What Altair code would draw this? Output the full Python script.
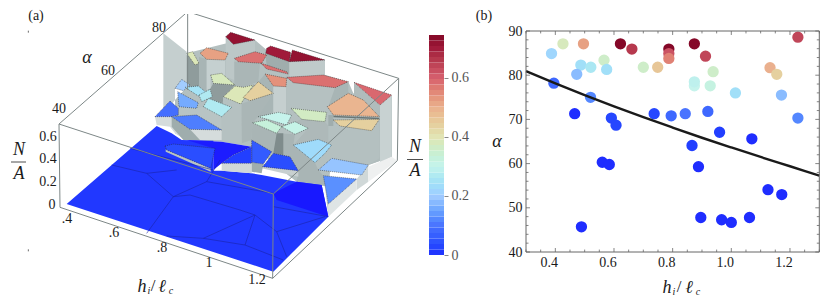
import altair as alt
import numpy as np

# ---------- panel (b) data ----------
h_vals = [.387,.426,.496,.622,.661,.787,.787,.787,.874,.912,1.227,.487,.473,.521,.566,.575,.70,.749,.938,.874,.874,.928,1.014,1.132,1.155,1.171,1.227,.395,.520,.466,.591,.607,.737,.795,.843,.92,.96,1.07,.866,.888,.56,.584,1.125,1.172,.896,.967,1.0,1.062,.489]
alpha_vals = [84.9,87.1,87.1,87.1,85.9,85.9,84.9,83.8,87.1,84.3,88.6,82.3,80.2,81.8,83.4,81.3,81.8,81.8,80.8,77.6,78.5,77.6,76.0,81.7,80.2,75.5,70.3,78.2,75.0,71.3,70.3,68.7,71.3,70.8,71.3,71.8,67.1,65.6,64.1,59.3,60.3,59.8,54.1,53.0,47.8,47.3,46.7,47.8,45.7]
n_vals = [.22,.38,.52,.74,.66,.74,.62,.56,.74,.64,.64,.24,.18,.26,.36,.24,.36,.46,.36,.30,.29,.32,.24,.50,.44,.18,.12,.08,.12,0,.03,.03,.03,.08,.1,.08,.02,0,.02,0,0,0,0,0,0,0,0,0,0]
curve_h = [.3,.4,.5,.6,.7,.8,.9,1.0,1.1,1.2,1.3]
curve_alpha = [80.9,78.15,75.5,72.95,70.5,68.15,65.85,63.65,61.5,59.4,57.3]

# ---------- colour map ----------
cmap_n = [0,.1,.2,.3,.4,.5,.6,.7,.745]
cmap_c = ["#1f2dff","#4a74ff","#a2ccff","#c6f3ec","#e2e4b4","#eab08e","#d65f6e","#a01a3a","#820626"]
COLOR = alt.Scale(domain=cmap_n, range=cmap_c, clamp=True)

# ---------- panel (a): projected faces (x3 zoom units) ----------
WALLS = [
 ("#c5cfcf",[(490,100),(560,155),(560,260),(525,265),(525,300),(490,345)]),
 ("#b4c0c0",[(560,160),(680,130),(765,120),(800,150),(975,180),(975,225),(1045,245),(1060,280),(1140,320),(1175,285),(1175,470),(1105,495),(1105,500),(995,475),(985,560),(890,545),(755,440),(665,425),(560,420),(525,400),(525,300),(560,262)]),
 ("#8f9c9c",[(560,165),(597,190),(597,285),(560,262)]),
 ("#a8b5b5",[(597,170),(620,178),(620,270),(597,285)]),
 ("#c5d0d0",[(620,178),(675,180),(675,230),(632,225),(632,265),(620,270)]),
 ("#bcc7c7",[(677,110),(700,133),(765,120),(765,160),(703,178),(703,240),(677,230)]),
 ("#aab6b6",[(703,185),(780,190),(775,245),(730,262),(703,255)]),
 ("#a0adad",[(797,160),(868,185),(868,220),(800,207)]),
 ("#bfcaca",[(868,185),(975,180),(975,225),(868,232)]),
 ("#a8b5b5",[(795,222),(820,258),(820,350),(775,350),(775,245)]),
 ("#c5cfcf",[(820,258),(858,260),(858,340),(820,345)]),
 ("#b5c1c1",[(860,235),(1005,263),(1000,350),(982,320),(980,337),(873,325),(860,340)]),
 ("#a8b5b5",[(1005,263),(1045,245),(1045,285),(985,320)]),
 ("#b0bcbc",[(1062,247),(1062,290),(1090,300),(1138,350),(1138,470),(1105,495),(1175,470),(1175,285),(1140,315)]),
 ("#c8d2d2",[(1140,315),(1175,285),(1175,470),(1140,490)]),
 ("#b4c0c0",[(1000,378),(1020,378),(1115,392),(1138,358),(1138,475),(1105,495),(995,475),(985,435),(985,378)]),
 ("#6a7676",[(1000,347),(1138,353),(1138,358),(1000,352)]),
 ("#aeb9b9",[(905,358),(975,365),(985,378),(985,440),(955,418),(880,435),(925,385),(885,365)]),
 ("#a0adad",[(985,345),(1000,345),(1000,378),(985,378)]),
 ("#a9b5b5",[(757,368),(830,400),(885,403),(880,435),(945,488),(955,510),(970,527),(975,555),(890,545),(895,512),(870,470),(820,460),(815,455),(755,420)]),
 ("#7f8c8c",[(830,400),(850,400),(850,465),(820,460)]),
 ("#8f9c9c",[(640,250),(705,255),(670,290),(665,350),(695,322),(625,295),(637,290),(630,268)]),
 ("#aab6b6",[(722,312),(750,302),(820,280),(775,350),(757,368),(755,420),(725,430),(725,312)]),
 ("#b5c1c1",[(670,290),(722,312),(725,430),(665,420),(665,350)]),
 ("#b8c4c4",[(537,320),(590,325),(610,320),(665,350),(665,390),(590,345),(535,345)]),
 ("#d5dcdc",[(465,350),(515,350),(570,388),(665,390),(665,420),(560,420),(525,400),(510,380),(470,375)]),
 ("#9fadad",[(515,350),(570,388),(600,420),(550,420),(515,380)]),
 ("#d0d8d8",[(1070,537),(1105,495),(1105,545),(1070,570)]),
 ("#dfe5e5",[(985,612),(1070,537),(1070,570),(985,650)]),
 ("#c0caca",[(975,555),(985,612),(985,650)]),
 ("#eef0f0",[(1105,500),(1175,470),(1192,482),(1105,545)]),
]
FLOOR = [(.012,[(200,612),(470,378),(515,400),(545,420),(640,422),(640,512),(665,512),(755,520),(785,525),(890,545),(965,555),(985,650),(820,815)])]
FLOOR_DARK = [
 ("#1c1cff",[(560,420),(665,425),(755,440),(700,465),(665,490),(640,510),(640,445)]),
 ("#1818ff",[(820,580),(890,545),(965,555),(985,650),(830,600)]),
 ("#b8c4c4",[(497,448),(632,505),(632,515),(497,455)]),
 ("#d0d8d8",[(665,490),(755,490),(755,520),(665,512)]),
 ("#c8d0d0",[(790,492),(895,512),(895,530),(785,505)]),
 ("#9fadad",[(755,487),(790,492),(785,520),(755,515)]),
]
TOPS = [
 (.72,[(677,110),(692,97),(765,120),(700,133)]),
 (.70,[(800,145),(812,138),(872,157),(868,185),(797,160)]),
 (.72,[(877,150),(975,180),(868,185)]),
 (.52,[(600,160),(620,143),(685,160),(675,180),(620,178)]),
 (.39,[(560,160),(578,155),(597,190),(585,195)]),
 (.58,[(703,175),(765,155),(800,165),(785,190),(715,185)]),
 (.58,[(783,190),(800,195),(860,215),(865,222),(800,207)]),
 (.54,[(795,222),(860,235),(858,260),(820,258)]),
 (.58,[(860,232),(970,225),(1045,245),(1005,263),(880,248)]),
 (.59,[(1062,247),(1175,285),(1140,315)]),
 (.49,[(982,320),(1045,280),(1090,300),(1138,350),(1000,345)]),
 (.44,[(1000,360),(1138,358),(1115,392),(1020,378)]),
 (.37,[(873,325),(980,337),(975,365),(905,358)]),
 (.38,[(632,225),(665,220),(705,255),(640,250)]),
 (.39,[(670,290),(705,258),(730,262),(760,255),(722,312)]),
 (.44,[(730,292),(775,245),(820,280),(750,302)]),
 (.20,[(525,265),(545,238),(570,255),(550,272)]),
 (.25,[(555,262),(595,258),(622,280),(595,288)]),
 (.27,[(597,285),(630,268),(637,290),(605,305)]),
 (.27,[(610,320),(625,295),(695,322),(665,350)]),
 (.16,[(533,275),(595,308),(590,325),(537,320)]),
 (.09,[(465,350),(510,303),(535,325),(535,345),(515,350)]),
 (.11,[(515,350),(590,345),(665,390),(570,388)]),
 (.30,[(775,350),(835,337),(875,345),(860,375)]),
 (.33,[(757,368),(800,360),(845,380),(830,400)]),
 (.31,[(845,380),(885,365),(925,385),(885,403)]),
 (.23,[(880,435),(955,418),(995,435),(975,460),(945,488)]),
 (.06,[(755,420),(815,455),(790,492),(755,487)]),
 (.04,[(788,500),(820,460),(870,470),(895,512)]),
 (.19,[(955,510),(995,475),(1105,495),(1085,525)]),
 (.13,[(970,527),(1070,537),(985,612)]),
 (.04,[(495,438),(520,432),(645,445),(632,505),(500,450)]),
 (.02,[(665,490),(700,465),(755,440),(755,490),(720,490)]),
]
FLOOR_SEAMS = [
 [(335,495),(440,520),(520,590),(620,545),(660,480)],
 [(440,520),(530,510)],
 [(620,545),(820,580)],
 [(520,590),(570,585),(720,630),(765,645),(830,695),(975,650)],
 [(520,590),(440,700)],
 [(765,645),(610,715),(500,708)],
 [(765,645),(735,735),(610,715)],
 [(830,695),(860,770)],
 [(735,735),(850,780)],
 [(820,620),(985,650)],
 [(390,445),(640,510)],
]
BOX = [
 [(180,622),(818,835),(1192,482)],
 [(177,372),(180,622)],
 [(820,582),(818,835)],
 [(177,372),(563,35),(1196,235),(1192,482)],
 [(177,372),(820,582),(1196,235)],
 [(563,35),(563,270)],
]
SPECKS = [[(85,92),(85,98)],[(85,748),(85,754)]]

OX, OY = 8, 14   # page origin of the chart's plot frame (margin + top padding)

def poly(pts, **props):
    ring = [[x/3, y/3] for x, y in pts]
    ring.append(ring[0])
    return {"type":"Feature","properties":props,"geometry":{"type":"Polygon","coordinates":[ring]}}
def path(pts):
    return {"type":"Feature","properties":{},"geometry":{"type":"LineString","coordinates":[[x/3,y/3] for x,y in pts]}}

def geo(features):
    return alt.Chart(alt.Data(values=features))
PROJ = dict(type="identity", scale=1, translate=[-OX,-OY])

walls = [geo([poly(p)]).mark_geoshape(fill=c, strokeWidth=0).project(**PROJ) for c,p in WALLS]
floor = geo([poly(p, N=n) for n,p in FLOOR]).mark_geoshape(strokeWidth=0).encode(
    fill=alt.Fill("properties.N:Q", scale=COLOR, legend=None)).project(**PROJ)
floor2 = [geo([poly(p)]).mark_geoshape(fill=c, strokeWidth=0).project(**PROJ) for c,p in FLOOR_DARK]
tops = geo([poly(p, N=n) for n,p in TOPS]).mark_geoshape(stroke="#222222", strokeWidth=0.5, strokeDash=[1,1]).encode(
    fill=alt.Fill("properties.N:Q", scale=COLOR, legend=None)).project(**PROJ)
seams = geo([path(p) for p in FLOOR_SEAMS]).mark_geoshape(filled=False, stroke="#1a23a8", strokeWidth=0.6).project(**PROJ)
box = geo([path(p) for p in BOX]).mark_geoshape(filled=False, stroke="#7d8787", strokeWidth=1).project(**PROJ)
specks = geo([path(p) for p in SPECKS]).mark_geoshape(filled=False, stroke="#444444", strokeWidth=0.8).project(**PROJ)

# ---------- pixel-frame text ----------
PX = alt.Scale(domain=[0,830], range=[-OX,830-OX], zero=False)
PY = alt.Scale(domain=[0,307], range=[-OY,307-OY], zero=False)
SERIF = "Liberation Serif, Times New Roman, serif"
label_text = ["(a)","(b)","80","60","40","0.6","0.4","0.2","0",".4",".6",".8","1","1.2","/","/"]
label_x = [36,484,159,108,59,48,48,48,52,67,114,162,209,257,153,679]
label_y = [16,16,28,71,109,137,159,182,205,219,233,248,263,280,286,287]
label_s = [14,14,14,14,14,14,14,14,14,14,14,14,14,14,17,17]
math_text = ["h","i","ℓ","c","h","i","ℓ","c","α","α","N","A","N","A"]
math_x = [142,149,162,171,667,674,689,698,87,497,19,19,415,415]
math_y = [287,291,287,291,288,292,288,292,58,142,150,174,147,171]
math_s = [18,10,18,10,18,10,18,10,18,18,18,18,18,18]

def text_layers(t, x, y, s, **kw):
    out = []
    for sz in sorted(set(s)):
        rows = [dict(t=a,x=b,y=c) for a,b,c,d in zip(t,x,y,s) if d == sz]
        out.append(alt.Chart(alt.Data(values=rows)).mark_text(font=SERIF, color="#1a1a1a", baseline="middle", fontSize=sz, **kw).encode(
            x=alt.X("x:Q", scale=PX, axis=None), y=alt.Y("y:Q", scale=PY, axis=None), text="t:N"))
    return out
labels = text_layers(label_text, label_x, label_y, label_s)
maths = text_layers(math_text, math_x, math_y, math_s, fontStyle="italic")
frac = alt.Chart(alt.Data(values=[dict(a=11,b=26,y=162),dict(a=407,b=423,y=159.5)])).mark_rule(color="#222222", strokeWidth=0.8).encode(
    x=alt.X("a:Q", scale=PX, axis=None), x2="b:Q", y=alt.Y("y:Q", scale=PY, axis=None))

# ---------- colour bar ----------
BAND = 0.745/40
bands = [dict(n=float(v), n2=float(v+BAND), m=float(v+BAND/2), a=429, b=444) for v in np.arange(0,0.745-1e-6,BAND)]
WIDTH, HEIGHT = 814, 284
bar = alt.Chart(alt.Data(values=bands)).mark_rect().encode(
    x=alt.X("a:Q", scale=PX, axis=None), x2="b:Q",
    y=alt.Y("n:Q", scale=alt.Scale(domain=[0,.745], range=[255-OY,35-OY], zero=False),
            axis=alt.Axis(orient="right", offset=444-OX-WIDTH, values=[0,.2,.4,.6], format=".1~f", title=None, domain=False,
                          grid=False, tickColor="#888888", tickSize=4, labelFont=SERIF, labelFontSize=14, labelColor="#555555", labelPadding=3)),
    y2="n2:Q",
    fill=alt.Fill("m:Q", scale=COLOR, legend=None))

# ---------- panel (b) ----------
BX = alt.Scale(domain=[.3,1.3], range=[526-OX,819.3-OX], zero=False, nice=False)
BY = alt.Scale(domain=[40,90], range=[252-OY,31-OY], zero=False, nice=False)
XMAJ, YMAJ = [.4,.6,.8,1.0,1.2], [40,50,60,70,80,90]
ticks = []
for i in range(21):
    v = round(.3+.05*i, 2)
    ln = .9 if v in XMAJ else .55
    ticks += [dict(x=v,x2=v,y=40,y2=40+ln), dict(x=v,x2=v,y=90,y2=90-ln)]
for v in range(40,91,2):
    ln = .0136 if v in YMAJ else .0085
    ticks += [dict(x=.3,x2=.3+ln,y=v,y2=v), dict(x=1.3,x2=1.3-ln,y=v,y2=v)]
tick_l = alt.Chart(alt.Data(values=ticks)).mark_rule(color="#666666", strokeWidth=0.8).encode(
    x=alt.X("x:Q", scale=BX, axis=None), x2="x2:Q", y=alt.Y("y:Q", scale=BY, axis=None), y2="y2:Q")
frame = alt.Chart(alt.Data(values=[dict(a=.3,b=1.3,c=40,d=90)])).mark_rect(filled=False, stroke="#666666", strokeWidth=1).encode(
    x=alt.X("a:Q", scale=BX, axis=alt.Axis(orient="bottom", offset=252-OY-HEIGHT, values=XMAJ, format=".1f", title=None, domain=False, grid=False, ticks=False,
            labelFont=SERIF, labelFontSize=14, labelColor="#1a1a1a", labelPadding=3, labelOffset=-6.5)),
    x2="b:Q",
    y=alt.Y("c:Q", scale=BY, axis=alt.Axis(orient="left", offset=-(526-OX), values=YMAJ, title=None, domain=False, grid=False, ticks=False,
            labelFont=SERIF, labelFontSize=14, labelColor="#1a1a1a", labelPadding=4)),
    y2="d:Q")
pts = [dict(h=a,al=b,n=c) for a,b,c in zip(h_vals,alpha_vals,n_vals)]
circles = alt.Chart(alt.Data(values=pts)).mark_circle(size=128, opacity=1).encode(
    x=alt.X("h:Q", scale=BX, axis=None), y=alt.Y("al:Q", scale=BY, axis=None),
    fill=alt.Fill("n:Q", scale=COLOR, legend=None))
curve = alt.Chart(alt.Data(values=[dict(h=a,al=b) for a,b in zip(curve_h,curve_alpha)])).mark_line(color="#1a1a1a", strokeWidth=2.4, interpolate="monotone").encode(
    x=alt.X("h:Q", scale=BX, axis=None), y=alt.Y("al:Q", scale=BY, axis=None))

layers = walls + [floor] + floor2 + [tops, seams, box, specks] + labels + maths + [frac, bar, circles, curve, tick_l, frame]
chart = alt.layer(*layers
    ).resolve_scale(x="independent", y="independent"
    ).properties(width=WIDTH, height=HEIGHT, padding={"top":OY-8,"left":0,"right":0,"bottom":0}, background="white",
                 autosize=alt.AutoSizeParams(type="none")
    ).configure_view(stroke=None)
chart.save("out.html", embed_options={"renderer": "svg", "actions": False})
